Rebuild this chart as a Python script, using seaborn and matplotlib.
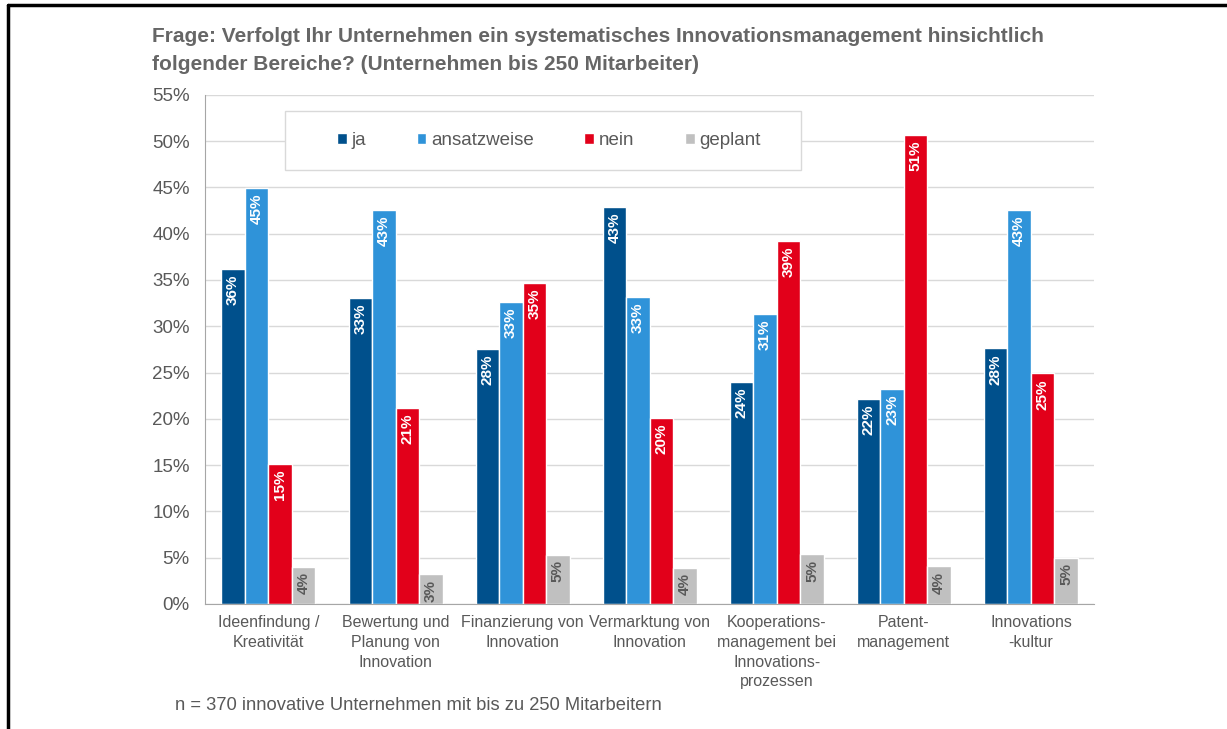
import pandas as pd
import matplotlib.pyplot as plt
import seaborn as sns
from matplotlib.lines import Line2D
from matplotlib.patches import Rectangle

# DATA
categories = ["Ideenfindung /\nKreativität", "Bewertung und\nPlanung von\nInnovation",
              "Finanzierung von\nInnovation", "Vermarktung von\nInnovation",
              "Kooperations-\nmanagement bei\nInnovations-\nprozessen", "Patent-\nmanagement",
              "Innovations\n-kultur"]
answers = ["ja", "ansatzweise", "nein", "geplant"]
ja = [36.2, 33.1, 27.5, 42.9, 24.0, 22.1, 27.6]
ansatzweise = [44.9, 42.6, 32.6, 33.2, 31.3, 23.2, 42.6]
nein = [15.1, 21.2, 34.7, 20.1, 39.2, 50.7, 24.9]
geplant = [4.0, 3.2, 5.3, 3.9, 5.4, 4.1, 5.0]
colors = ["#00508c", "#2f93d9", "#e2001a", "#c0c0c0"]

df = pd.DataFrame({"Bereich": categories * 4,
                   "Antwort": sum([[a] * len(categories) for a in answers], []),
                   "Wert": ja + ansatzweise + nein + geplant})

# STYLING
sns.set_style("white")
plt.rcParams['font.family'] = ['Liberation Sans', 'DejaVu Sans']
grey = "#595959"

fig = plt.figure(figsize=(12.27, 7.29), dpi=100)
ax = fig.add_axes([0.167, 0.1715, 0.725, 0.6985])

sns.barplot(data=df, x="Bereich", y="Wert", hue="Antwort", palette=colors,
            width=0.74, edgecolor="white", linewidth=1, saturation=1, ax=ax)

# bar labels
for cont, ans in zip(ax.containers, answers):
    for bar in cont:
        h = bar.get_height()
        ax.annotate(f"{h:.0f}%", (bar.get_x() + bar.get_width() / 2, h),
                    xytext=(0, -4), textcoords="offset points", rotation=90,
                    ha="center", va="top", fontsize=11, fontweight="bold",
                    color=grey if ans == "geplant" else "white")

ax.set_ylim(0, 55)
ax.set_yticks(range(0, 56, 5))
ax.set_yticklabels([f"{v}%" for v in range(0, 56, 5)], fontsize=13.5, color=grey)
ax.set_xticks(range(len(categories)))
ax.set_xticklabels(categories, fontsize=11.5, color=grey, linespacing=1.4)
ax.tick_params(axis="x", length=0, pad=8)
ax.tick_params(axis="y", length=0, pad=11)
ax.set_xlabel("")
ax.set_ylabel("")
ax.grid(axis="y", color="#d9d9d9", linewidth=1)
ax.set_axisbelow(True)
for s in ["top", "right"]:
    ax.spines[s].set_visible(False)
for s in ["left", "bottom"]:
    ax.spines[s].set_color("#a6a6a6")

# legend box + legend
ax.add_patch(Rectangle((80 / 890, 434 / 509), 516 / 890, 59 / 509, transform=ax.transAxes,
                       facecolor="white", edgecolor="#d9d9d9", linewidth=1, zorder=4))
leg = ax.legend(loc="center left", bbox_to_anchor=(132 / 890, 463 / 509), ncol=4,
                frameon=False, fontsize=13.5, handlelength=0.52, handleheight=0.52,
                handletextpad=0.25, columnspacing=2.7, borderpad=0, borderaxespad=0)
leg.set_zorder(5)
for t in leg.get_texts():
    t.set_color(grey)

fig.text(152 / 1227, 1 - 51 / 729,
         "Frage: Verfolgt Ihr Unternehmen ein systematisches Innovationsmanagement hinsichtlich\n"
         "folgender Bereiche? (Unternehmen bis 250 Mitarbeiter)",
         fontsize=15, fontweight="bold", color="#666666", va="center", linespacing=1.6)
fig.text(175 / 1227, 1 - 706 / 729, "n = 370 innovative Unternehmen mit bis zu 250 Mitarbeitern",
         fontsize=13.2, color=grey, va="center")

# frame lines
fig.add_artist(Line2D([8 / 1227, 8 / 1227], [0, 1 - 5 / 729], color="black", linewidth=2.5))
fig.add_artist(Line2D([8 / 1227, 1], [1 - 5 / 729, 1 - 5 / 729], color="black", linewidth=2.5))

fig.savefig("out.png", dpi=100)
